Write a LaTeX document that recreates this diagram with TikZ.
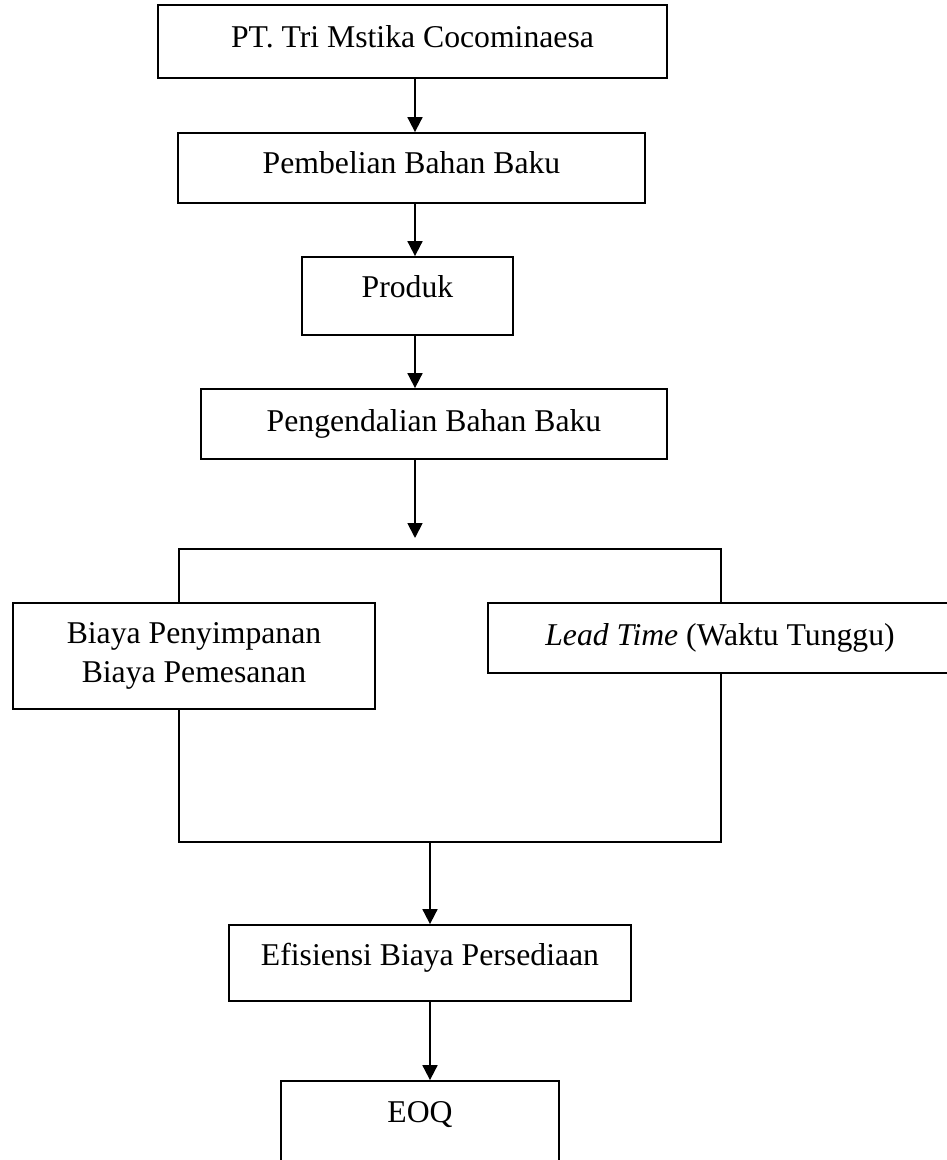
\documentclass[tikz,border=0pt]{standalone}
\usepackage{fontspec}
\setmainfont{Liberation Serif}
\usetikzlibrary{arrows.meta}
\begin{document}
\begin{tikzpicture}[x=1pt,y=-1pt,
  box/.style={draw, line width=1.8pt, inner xsep=0pt, inner ysep=0pt, minimum height=0pt,
    font=\fontsize{31.7}{39}\selectfont},
  conn/.style={line width=1.8pt},
  arr/.style={line width=1.8pt, -{Triangle[length=15pt,width=15pt]}}]
\useasboundingbox (0,0) rectangle (947,1160);
% boxes
\node[box, anchor=base, minimum width=509pt, text height=42pt, text depth=31pt] (n1) at (412.5,47) {PT. Tri Mstika Cocominaesa};
\node[box, anchor=base, minimum width=467pt, text height=40pt, text depth=30pt] (n2) at (411.5,173) {Pembelian Bahan Baku};
\node[box, anchor=base, minimum width=211pt, text height=40pt, text depth=38pt] (n3) at (407.5,297) {Produk};
\node[box, anchor=base, minimum width=466pt, text height=42pt, text depth=28pt] (n4) at (434,431) {Pengendalian Bahan Baku};
\node[box, minimum width=362pt, minimum height=106pt, align=center] (n5) at (194,656) {Biaya Penyimpanan\\Biaya Pemesanan};
\node[box, anchor=base, minimum width=464pt, text height=42pt, text depth=28pt] (n6) at (720,645) {\textit{Lead Time} (Waktu Tunggu)};
\node[box, anchor=base, minimum width=402pt, text height=40pt, text depth=36pt] (n7) at (430,965) {Efisiensi Biaya Persediaan};
\node[box, anchor=base, minimum width=278pt, text height=41pt, text depth=48pt] (n8) at (420,1122) {EOQ};
% coordinates
\coordinate (ax) at (415,0);
\coordinate (a4) at (415,538);
\coordinate (bl) at (179,549);
\coordinate (br) at (721,549);
\coordinate (bbl) at (179,842);
\coordinate (bbr) at (721,842);
% connectors
\draw[arr] (n1.south -| ax) -- (n2.north -| ax);
\draw[arr] (n2.south -| ax) -- (n3.north -| ax);
\draw[arr] (n3.south -| ax) -- (n4.north -| ax);
\draw[arr] (n4.south -| a4) -- (a4);
\draw[conn] (n5.north -| bl) -- (bl) -- (br) -- (n6.north -| br);
\draw[conn] (n5.south -| bbl) -- (bbl) -- (bbr) -- (n6.south -| bbr);
\draw[arr] (n7.north |- bbl) -- (n7.north);
\draw[arr] (n7.south) -- (n7.south |- n8.north);
\end{tikzpicture}
\end{document}
